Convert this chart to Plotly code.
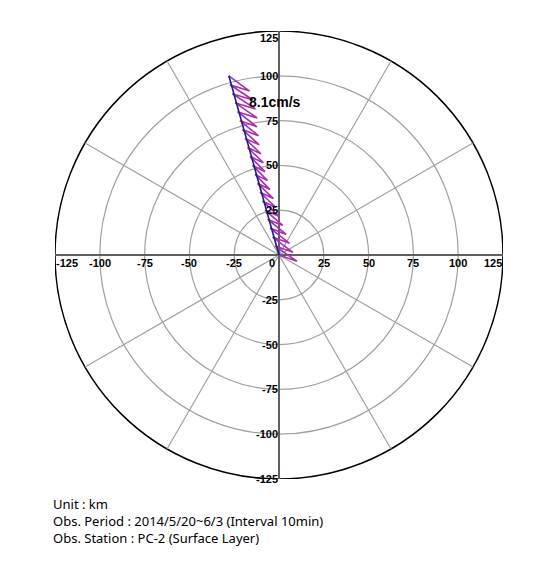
import math
import plotly.graph_objects as go

# progressive vector diagram (km)
pvd_x = [0, 10.0, -2.2, 7.8, -3.6, 5.9, -5.0, 4.0, -6.4, 2.1, -7.8, 0.2, -9.2, -1.7,
         -10.6, -3.1, -12.0, -5.0, -13.4, -6.4, -14.8, -7.8, -16.2, -8.7, -17.6, -10.1,
         -19.0, -11.0, -20.4, -11.4, -21.8, -12.3, -23.2, -12.2, -24.6, -13.1,
         -26.0, -14.5, -27.4, -16.4, -28.0]
pvd_y = [0, -3.5, 5.0, 1.5, 10.0, 6.5, 15.0, 11.5, 20.0, 16.5, 25.0, 21.5, 30.0, 26.5,
         35.0, 31.5, 40.0, 36.5, 45.0, 41.5, 50.0, 46.5, 55.0, 51.5, 60.0, 56.5,
         65.0, 61.5, 70.0, 66.5, 75.0, 71.5, 80.0, 76.5, 85.0, 81.5,
         90.0, 86.5, 95.0, 91.5, 100.0]

# mean current vector
mean_x = [0, -28]
mean_y = [0, 100]
mean_label = "8.1cm/s"

radii = [25, 50, 75, 100, 125]
spoke_angles = [30, 60, 120, 150, 210, 240, 300, 330]
ticks = [-125, -100, -75, -50, -25, 25, 50, 75, 100, 125]

notes = ["Unit : km",
         "Obs. Period : 2014/5/20~6/3 (Interval 10min)",
         "Obs. Station : PC-2 (Surface Layer)"]

R = 125
fig = go.Figure()

shapes = []
for r in radii:
    shapes.append(dict(type="circle", xref="x", yref="y", x0=-r, y0=-r, x1=r, y1=r,
                       line=dict(color="#000000" if r == R else "#a0a0a0",
                                 width=1.5 if r == R else 1.2),
                       layer="below"))
for a in spoke_angles:
    t = math.radians(a)
    shapes.append(dict(type="line", xref="x", yref="y", x0=0, y0=0,
                       x1=R * math.cos(t), y1=R * math.sin(t),
                       line=dict(color="#a0a0a0", width=1.2), layer="below"))
# cross axes
shapes.append(dict(type="line", xref="x", yref="y", x0=-R, y0=0, x1=R, y1=0,
                   line=dict(color="#606060", width=2), layer="below"))
shapes.append(dict(type="line", xref="x", yref="y", x0=0, y0=-R, x1=0, y1=R,
                   line=dict(color="#606060", width=2), layer="below"))

fig.add_trace(go.Scatter(x=pvd_x, y=pvd_y, mode="lines",
                         line=dict(color="#a632ae", width=1.6), hoverinfo="skip"))
fig.add_trace(go.Scatter(x=mean_x, y=mean_y, mode="lines",
                         line=dict(color="#1a1a9a", width=1.6), hoverinfo="skip"))

lab_font = dict(family="Liberation Sans, Arial", size=11, color="#000000")
ann = []
for v in ticks:
    # labels along horizontal axis
    xa = "center"
    if v == -R:
        xa = "left"
    elif v == R:
        xa = "right"
    ann.append(dict(x=v, y=0, xref="x", yref="y", text="<b>%d</b>" % v, showarrow=False,
                    xanchor=xa, yanchor="top", yshift=-1, borderpad=0, font=lab_font))
    # labels along vertical axis
    ya = "top" if v == R else "middle"
    ann.append(dict(x=0, y=v, xref="x", yref="y", text="<b>%d</b>" % v, showarrow=False,
                    xanchor="right", yanchor=ya, borderpad=0, font=lab_font))
ann.append(dict(x=0, y=0, xref="x", yref="y", text="<b>0</b>", showarrow=False,
                xanchor="right", yanchor="top", xshift=-3, yshift=-1, borderpad=0, font=lab_font))
ann.append(dict(x=-2, y=85.5, xref="x", yref="y", text="<b>%s</b>" % mean_label,
                showarrow=False, font=dict(family="Liberation Sans, Arial", size=14, color="#000000")))

# notes below the chart (page pixel rows converted to paper coords)
ann.append(dict(x=(52 - 55) / 448, y=(479 - 494) / 448, xref="paper", yref="paper",
                text="<br>".join(notes), showarrow=False, xanchor="left", yanchor="top",
                align="left", borderpad=0,
                font=dict(family="Noto Sans", size=13, color="#000000")))

# page body adds an 8px offset, so the figure is drawn 8px smaller
fig.update_layout(
    width=542, height=563,
    margin=dict(l=47, r=47, t=23, b=92),
    paper_bgcolor="white", plot_bgcolor="white",
    showlegend=False,
    xaxis=dict(range=[-R, R], visible=False, fixedrange=True),
    yaxis=dict(range=[-R, R], visible=False, fixedrange=True),
    shapes=shapes,
    annotations=ann,
)

fig.write_html("out.html")
